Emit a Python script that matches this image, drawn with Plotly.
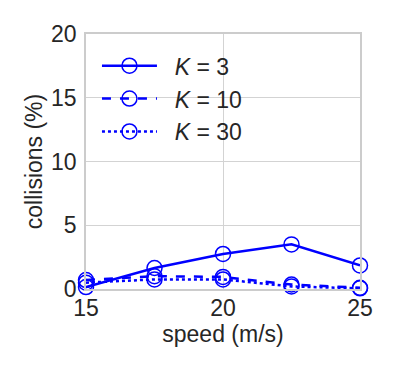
import plotly.graph_objects as go

speed = [15, 17.5, 20, 22.5, 25]
k3 = [0.15, 1.65, 2.75, 3.5, 1.85]
k10 = [0.7, 1.0, 0.95, 0.35, 0.1]
k30 = [0.5, 0.75, 0.75, 0.2, 0.05]

series = [("\u00a0\u00a0<i>K</i> = 3", k3, "solid"),
          ("\u00a0\u00a0<i>K</i> = 10", k10, "dash"),
          ("\u00a0\u00a0<i>K</i> = 30", k30, "dot")]

fig = go.Figure()
for name, vals, dash in series:
    fig.add_trace(go.Scatter(
        x=speed, y=vals, name=name, mode="lines+markers",
        line=dict(color="#0000ff", width=2.5, dash=dash),
        marker=dict(symbol="circle-open", size=15, color="#0000ff",
                    line=dict(width=1.5, color="#0000ff")),
        cliponaxis=False,
    ))

axis_style = dict(showgrid=True, gridcolor="#d3d3d3", gridwidth=1,
                  showline=True, linecolor="#cccccc", linewidth=1.5, mirror=True,
                  zeroline=False, ticks="", automargin=False,
                  tickfont=dict(size=23, color="#262626"))

# page body has an 8px margin, so the figure is shifted by 8px
fig.update_layout(
    width=399, height=372,
    margin=dict(l=78, r=47, t=26, b=91),
    plot_bgcolor="white", paper_bgcolor="white",
    font=dict(family="Liberation Sans, Arial, sans-serif", color="#262626"),
    showlegend=True,
    legend=dict(x=0.04, y=0.96, xanchor="left", yanchor="top",
                bgcolor="rgba(255,255,255,0)", font=dict(size=23),
                tracegroupgap=0, itemwidth=55),
    xaxis=dict(range=[15, 25], tickvals=[15, 20, 25], ticklabelstandoff=-2,
               title=dict(text="speed (m/s)", font=dict(size=23), standoff=0),
               **axis_style),
    yaxis=dict(range=[0, 20], tickvals=[0, 5, 10, 15, 20], ticklabelstandoff=3,
               title=dict(text="collisions (%)", font=dict(size=23), standoff=2),
               **axis_style),
)

fig.write_html("out.html")
